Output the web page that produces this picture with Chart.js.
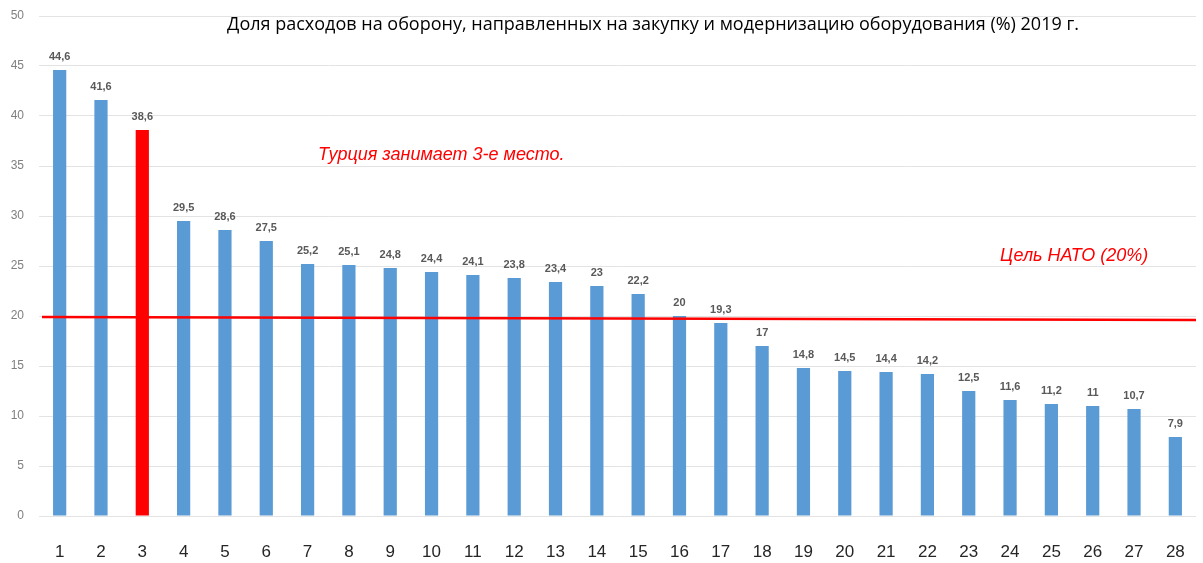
<!DOCTYPE html>
<html>
<head>
<meta charset="utf-8">
<script src="https://cdn.jsdelivr.net/npm/chart.js@4"></script>
<style>
  html, body { margin: 0; padding: 0; background: #fff; }
  #wrap { width: 1203px; height: 563px; }
</style>
</head>
<body>
<div id="wrap"><canvas id="chart" width="1203" height="563"></canvas></div>
<script>
// Chart data
const ranks = ['1','2','3','4','5','6','7','8','9','10','11','12','13','14','15','16','17','18','19','20','21','22','23','24','25','26','27','28'];
const shares = [44.6, 41.6, 38.6, 29.5, 28.6, 27.5, 25.2, 25.1, 24.8, 24.4, 24.1, 23.8, 23.4, 23, 22.2, 20, 19.3, 17, 14.8, 14.5, 14.4, 14.2, 12.5, 11.6, 11.2, 11, 10.7, 7.9];
const highlightRank = '3';
const natoTarget = 20;
const yTicks = [0, 5, 10, 15, 20, 25, 30, 35, 40, 45, 50];

const titleText = 'Доля расходов на оборону, направленных на закупку и модернизацию оборудования (%) 2019 г.';
const turkeyNote = 'Турция занимает 3-е место.';
const natoNote = 'Цель НАТО (20%)';

const BLUE = '#5B9BD5';
const RED = '#FF0000';

const barColors = ranks.map(r => r === highlightRank ? RED : BLUE);

// value labels, target line and notes
const overlay = {
    id: 'overlay',
    afterDatasetsDraw(chart) {
        const ctx = chart.ctx;
        const y = chart.scales.y;
        const area = chart.chartArea;
        const meta = chart.getDatasetMeta(0);

        ctx.save();
        ctx.fillStyle = '#595959';
        ctx.font = 'bold 11px "Liberation Sans", Arial, sans-serif';
        ctx.textAlign = 'center';
        ctx.textBaseline = 'middle';
        meta.data.forEach((bar, i) => {
            ctx.fillText(String(shares[i]).replace('.', ','), bar.x, bar.y - 13);
        });

        // NATO 20% line
        const ly = y.getPixelForValue(natoTarget);
        ctx.strokeStyle = RED;
        ctx.lineWidth = 2.5;
        ctx.beginPath();
        ctx.moveTo(area.left + 3, ly + 1);
        ctx.lineTo(area.right, ly + 4);
        ctx.stroke();

        // notes
        ctx.fillStyle = RED;
        ctx.font = 'italic 18px "Liberation Sans", Arial, sans-serif';
        ctx.textAlign = 'left';
        ctx.fillText(turkeyNote, 318, y.getPixelForValue(36.1));
        ctx.fillText(natoNote, 1000, y.getPixelForValue(26));

        // title
        ctx.fillStyle = '#000';
        ctx.font = '18px "Open Sans", "Liberation Sans", sans-serif';
        ctx.textAlign = 'center';
        ctx.fillText(titleText, 653, 25);
        ctx.restore();
    }
};

const chart = new Chart(document.getElementById('chart').getContext('2d'), {
    type: 'bar',
    data: {
        labels: ranks,
        datasets: [{
            data: shares,
            backgroundColor: barColors,
            barPercentage: 0.32,
            categoryPercentage: 1
        }]
    },
    options: {
        responsive: false,
        animation: false,
        layout: { padding: { top: 16, right: 7, left: 0, bottom: 0 } },
        plugins: {
            legend: { display: false },
            tooltip: { enabled: false }
        },
        scales: {
            x: {
                grid: { display: false, drawTicks: false },
                border: { display: false },
                ticks: {
                    color: '#262626',
                    font: { size: 17, family: '"Liberation Sans", Arial, sans-serif' },
                    padding: 26,
                    maxRotation: 0
                },
                afterFit(scale) {
                    scale.height = 47;
                    scale.paddingLeft = 0;
                    scale.paddingRight = 0;
                }
            },
            y: {
                min: 0,
                max: 50,
                afterBuildTicks(scale) { scale.ticks = yTicks.map(v => ({ value: v })); },
                grid: { color: '#E3E3E3', lineWidth: 1, drawTicks: false },
                border: { display: false },
                ticks: {
                    color: '#808080',
                    font: { size: 12, family: '"Liberation Sans", Arial, sans-serif' },
                    padding: 15
                },
                afterFit(scale) {
                    scale.width = 39;
                    scale.paddingTop = 0;
                    scale.paddingBottom = 0;
                }
            }
        }
    },
    plugins: [overlay]
});
</script>
</body>
</html>
